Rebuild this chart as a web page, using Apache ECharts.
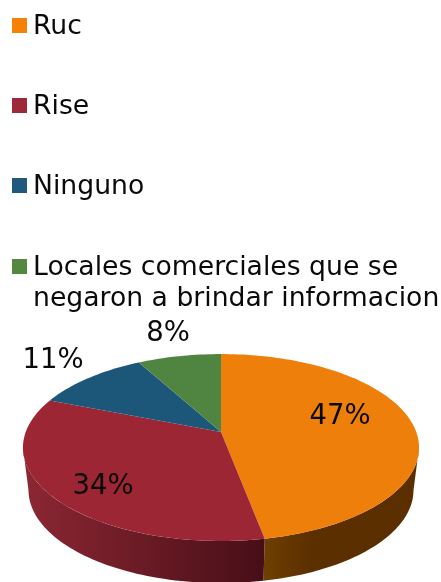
<!DOCTYPE html>
<html>
<head>
<meta charset="utf-8">
<style>
  html, body { margin: 0; padding: 0; background: #fff; }
  #chart { width: 441px; height: 582px; }
</style>
<script src="https://cdn.jsdelivr.net/npm/echarts@6/dist/echarts.min.js"></script>
</head>
<body>
<div id="chart"></div>
<script>
const categories = ["Ruc", "Rise", "Ninguno", "Locales comerciales que se negaron a brindar informacion"];
const values = [47, 34, 11, 8];

const legendColors = ["#f58207", "#9e2a39", "#1f5a7e", "#53893f"];
const faceColors = ["#ee7f0b", "#9c2634", "#1c5679", "#508441"];
const labelPos = [[340, 417], [103, 487], [53, 361], [168, 334]];

const font = '"DejaVu Sans", sans-serif';
const total = values.reduce((a, b) => a + b, 0);

// the picture has a bit of perspective: the apex sits above the centre of the ellipse
const cx = 221, apexY = 432, A = 195.3, B = 90.9, C = -0.166;
const bottomApexY = 474.6, bottomX = 0.972, bottomY = 0.995;
// side wall only shows between the left and right ends of the ellipse
const wallFrom = 0.2767, wallTo = 0.7233;

const rim = (frac, bottom) => {
  const t = frac * 2 * Math.PI;
  const u = Math.sin(t), v = -Math.cos(t);
  const d = 1 + C * v;
  return bottom
    ? [cx + bottomX * A * u / d, bottomApexY + bottomY * B * v / d]
    : [cx + A * u / d, apexY + B * v / d];
};

const arc = (from, to, bottom) => {
  const pts = [];
  const n = Math.max(2, Math.ceil((to - from) * 240));
  for (let i = 0; i <= n; i++) pts.push(rim(from + (to - from) * i / n, bottom));
  return pts;
};

const wallFill = (idx) => idx === 0
  ? new echarts.graphic.LinearGradient(265, 0, 419, 0, [
      { offset: 0, color: "#6d3f00" },
      { offset: 0.3, color: "#5c2f00" },
      { offset: 1, color: "#5b2e00" },
    ], true)
  : new echarts.graphic.LinearGradient(23, 0, 265, 0, [
      { offset: 0, color: "#8c2733" },
      { offset: 1, color: "#470e17" },
    ], true);

const renderSlice = (idx) => {
  const start = values.slice(0, idx).reduce((a, b) => a + b, 0) / total;
  const end = start + values[idx] / total;
  const children = [
    {
      type: "polygon",
      z2: 5,
      shape: { points: [[cx, apexY]].concat(arc(start, end, false)) },
      style: { fill: faceColors[idx] },
    },
    {
      type: "text",
      z2: 10,
      style: {
        x: labelPos[idx][0],
        y: labelPos[idx][1],
        text: values[idx] + "%",
        font: "27.5px " + font,
        fill: "#0a0a0a",
        align: "center",
        verticalAlign: "middle",
      },
    },
  ];
  const a = Math.max(start, wallFrom), b = Math.min(end, wallTo);
  if (b > a) {
    children.push({
      type: "polygon",
      z2: 1,
      shape: { points: arc(a, b, false).concat(arc(a, b, true).reverse()) },
      style: { fill: wallFill(idx) },
    });
  }
  return { type: "group", silent: true, children: children };
};

const legendText = { color: "#0a0a0a", fontFamily: font, fontSize: 26.67, lineHeight: 31, padding: [0, 0, 0, 1] };
// square marker plus an empty strip below it, so the text sits 2px lower than the marker's middle
const legendIcon = "path://M0,0H15V15H0ZM0,19L15,19L15,19Z";

const chart = echarts.init(document.getElementById("chart"), null, { renderer: "canvas" });
chart.setOption({
  animation: false,
  legend: [
    {
      data: categories.slice(0, 3),
      orient: "vertical",
      left: 12,
      top: 12,
      padding: 0,
      itemGap: 49,
      itemWidth: 15,
      itemHeight: 19,
      icon: legendIcon,
      selectedMode: false,
      textStyle: legendText,
    },
    {
      data: categories.slice(3),
      orient: "vertical",
      left: 12,
      top: 222,
      padding: 0,
      itemWidth: 15,
      itemHeight: 19,
      icon: legendIcon,
      selectedMode: false,
      textStyle: legendText,
      // blank first line keeps the marker level with the first line of text
      formatter: () => "\nLocales comerciales que se\nnegaron a brindar informacion",
    },
  ],
  series: categories.map((name, i) => ({
    type: "custom",
    name: name,
    coordinateSystem: "none",
    silent: true,
    itemStyle: { color: legendColors[i] },
    data: [values[i]],
    renderItem: () => renderSlice(i),
  })),
});
</script>
</body>
</html>
